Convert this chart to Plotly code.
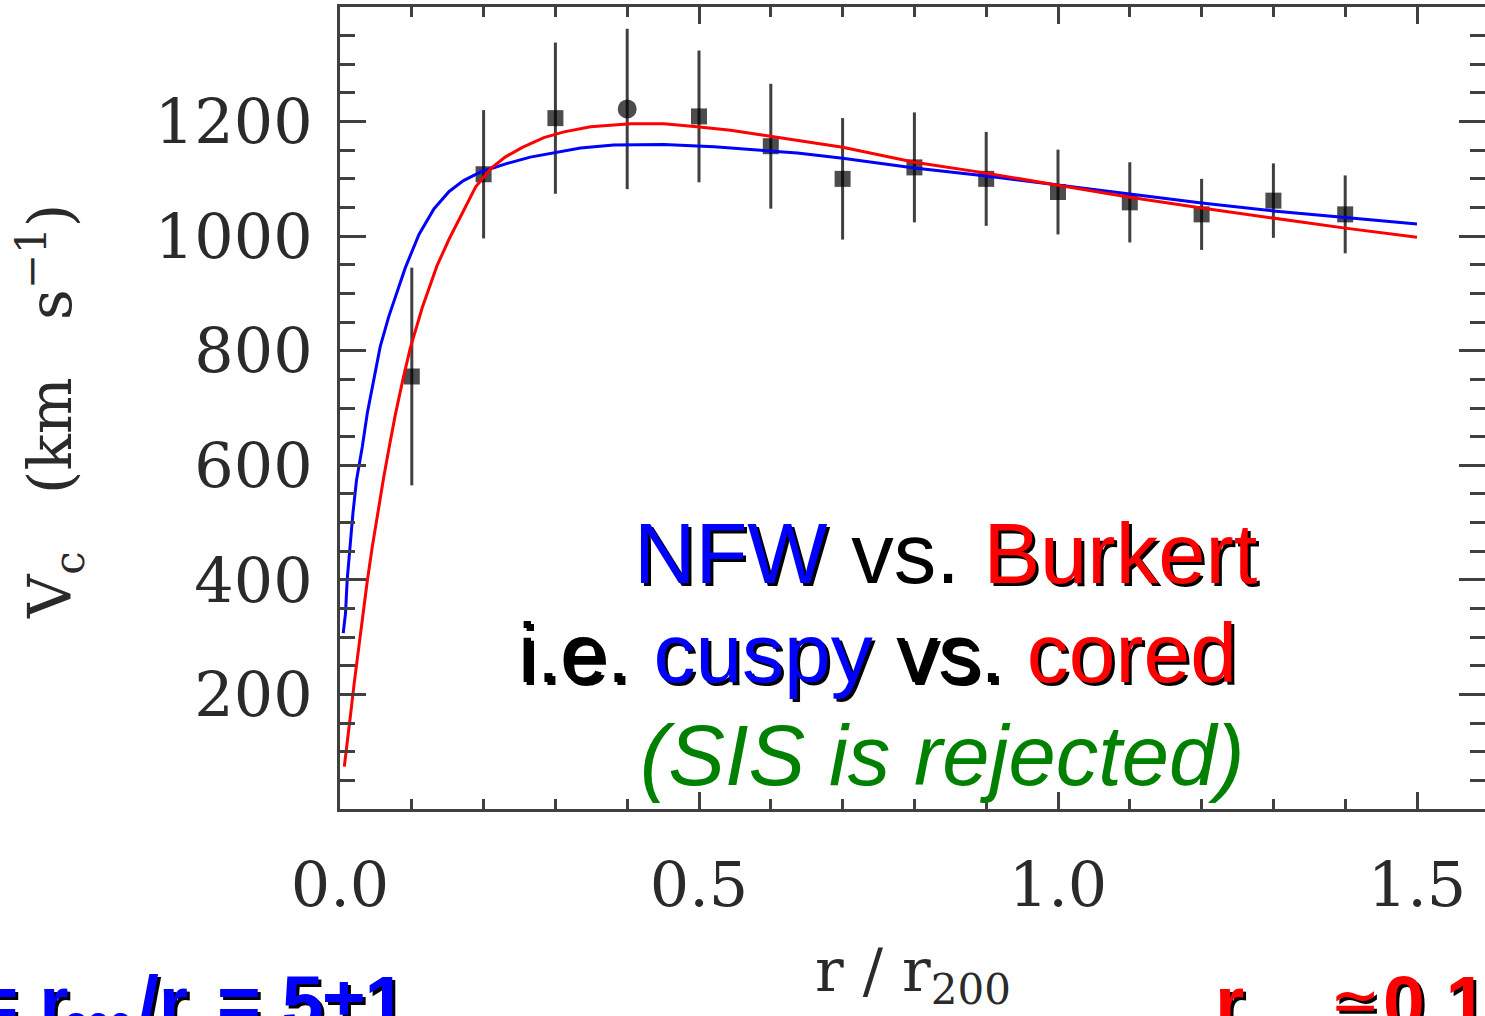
import plotly.graph_objects as go

# ---------------- data ----------------
r_data = [0.1, 0.2, 0.3, 0.4, 0.5, 0.6, 0.7, 0.8, 0.9, 1.0, 1.1, 1.2, 1.3, 1.4]
v_data = [755, 1108, 1206, 1222, 1209, 1157, 1100, 1120, 1100, 1077, 1059, 1038, 1062, 1038]
v_err = [190, 112, 132, 140, 115, 109, 106, 96, 82, 74, 70, 62, 65, 68]

r_nfw = [0.0045, 0.0077, 0.010, 0.0137, 0.018, 0.023, 0.031, 0.038, 0.047, 0.056,
         0.068, 0.080, 0.091, 0.110, 0.131, 0.152, 0.172, 0.196, 0.233, 0.265,
         0.302, 0.335, 0.381, 0.451, 0.521, 0.567, 0.637, 0.7, 0.8, 0.9,
         1.0, 1.1, 1.2, 1.3, 1.4, 1.5]
v_nfw = [307, 342, 400, 458, 516, 574, 632, 691, 749, 807,
         860, 905, 945, 1003, 1048, 1078, 1097, 1112, 1127, 1138,
         1147, 1154, 1159, 1160, 1156, 1152, 1145, 1136, 1119, 1105,
         1089, 1073, 1058, 1044, 1032, 1021]

r_bur = [0.006, 0.010, 0.015, 0.020, 0.026, 0.032, 0.038, 0.045, 0.052, 0.061,
         0.069, 0.077, 0.088, 0.098, 0.1145, 0.126, 0.135, 0.152, 0.170, 0.189,
         0.210, 0.230, 0.254, 0.284, 0.312, 0.349, 0.405, 0.451, 0.497, 0.544,
         0.590, 0.637, 0.683, 0.7, 0.8, 0.9, 1.0, 1.1, 1.2, 1.3, 1.4, 1.5]
v_bur = [74, 112, 168, 222, 283, 342, 398, 458, 515, 580,
         635, 688, 752, 805, 875, 918, 948, 995, 1040, 1086,
         1118, 1138, 1155, 1172, 1182, 1191, 1196, 1196, 1191, 1185,
         1176, 1167, 1159, 1155, 1129, 1110, 1089, 1068, 1049, 1031, 1014, 998]

x_tickvals = [0.0, 0.5, 1.0, 1.5]
x_ticktext = ["0.0", "0.5", "1.0", "1.5"]
y_tickvals = [200, 400, 600, 800, 1000, 1200]
y_ticktext = ["200", "400", "600", "800", "1000", "1200"]

# ---------------- style / layout ----------------
W, H = 1485, 1016
ML, MR, MT, MB = 340, 0, 7, 207
PW, PH = W - ML - MR, H - MT - MB
XMAX = PW / 718.0          # 718 px per unit of r/r200
AX = "#404040"
BLUE, RED, GREEN, BLACK = "#0000FF", "#FF0000", "#008000", "#000000"
NONE = "rgba(0,0,0,0)"
SERIF = "DejaVu Serif"
SANS = "Liberation Sans, Arial, sans-serif"

def px(xp):
    return (xp - ML) / PW

def py(yp):
    return (MT + PH - yp) / PH

fig = go.Figure()

symbols = ["square"] * len(r_data)
sizes = [16] * len(r_data)
symbols[3] = "circle"
sizes[3] = 19

# error bars (markers hidden), then markers on top, then model curves
fig.add_trace(go.Scatter(
    x=r_data, y=v_data, mode="markers",
    marker=dict(size=1, opacity=0),
    error_y=dict(type="data", array=v_err, visible=True, color=AX, thickness=3, width=0),
    showlegend=False, hoverinfo="skip", cliponaxis=False))
fig.add_trace(go.Scatter(
    x=r_data, y=v_data, mode="markers",
    marker=dict(symbol=symbols, size=sizes, color="#000000", line=dict(width=0)),
    showlegend=False, hoverinfo="skip", cliponaxis=False))

fig.add_trace(go.Scatter(x=r_nfw, y=v_nfw, mode="lines", line=dict(color=BLUE, width=3),
                         showlegend=False, hoverinfo="skip"))
fig.add_trace(go.Scatter(x=r_bur, y=v_bur, mode="lines", line=dict(color=RED, width=3),
                         showlegend=False, hoverinfo="skip"))
# invisible trace to activate the right-hand tick axis
fig.add_trace(go.Scatter(x=r_data, y=v_data, yaxis="y2", mode="markers",
                         marker=dict(opacity=0), showlegend=False, hoverinfo="skip"))

tickfont = dict(family=SERIF, size=62, color="#2a2a2a")

fig.update_layout(
    width=W, height=H, margin=dict(l=ML, r=MR, t=MT, b=MB, pad=0),
    paper_bgcolor="white", plot_bgcolor="white",
    xaxis=dict(range=[0, XMAX], tickmode="array", tickvals=x_tickvals, ticktext=x_ticktext,
               ticks="inside", ticklen=17, tickwidth=3, tickcolor=AX,
               minor=dict(dtick=0.1, tick0=0, ticks="inside", ticklen=10, tickwidth=3, tickcolor=AX),
               showline=True, linewidth=3, linecolor=AX, mirror="ticks",
               showgrid=False, zeroline=False, tickfont=tickfont, ticklabelstandoff=20),
    yaxis=dict(range=[0, 1400], tickmode="array", tickvals=y_tickvals, ticktext=y_ticktext,
               ticks="inside", ticklen=26, tickwidth=3, tickcolor=AX,
               minor=dict(dtick=50, tick0=0, ticks="inside", ticklen=15, tickwidth=3, tickcolor=AX),
               showline=True, linewidth=3, linecolor=AX, mirror=False,
               showgrid=False, zeroline=False, tickfont=tickfont, ticklabelstandoff=12),
    yaxis2=dict(range=[0, 1400], overlaying="y", side="right", tickmode="array", tickvals=y_tickvals,
                ticks="inside", ticklen=26, tickwidth=3, tickcolor=AX, showticklabels=False,
                minor=dict(dtick=50, tick0=0, ticks="inside", ticklen=15, tickwidth=3, tickcolor=AX),
                showline=False, showgrid=False, zeroline=False),
)

annotations = []

def add_text(segments, xp, yp, size, shadow=True, italic=False, bold=False, family=SANS, noshadow=()):
    plain = "".join(f'<span style="color:{NONE if i in noshadow else BLACK}">{t}</span>'
                    for i, (t, c) in enumerate(segments))
    colored = "".join(f'<span style="color:{c}">{t}</span>' for t, c in segments)
    if italic:
        plain, colored = f"<i>{plain}</i>", f"<i>{colored}</i>"
    if bold:
        plain, colored = f"<b>{plain}</b>", f"<b>{colored}</b>"
    base = dict(xref="paper", yref="paper", x=px(xp), y=py(yp), xanchor="left", yanchor="middle",
                showarrow=False, font=dict(family=family, size=size, color=BLACK))
    if shadow:
        annotations.append(dict(base, text=plain, xshift=3, yshift=-3))
    annotations.append(dict(base, text=colored))

add_text([("NFW", BLUE), (" vs. ", BLACK), ("Burkert", RED)], 632, 553, 85, noshadow=(1,))
add_text([("i.e. ", BLACK), ("cuspy", BLUE), (" vs. ", BLACK), ("cored", RED)], 516, 653, 84)
add_text([("(SIS is rejected)", GREEN)], 638, 755, 85, shadow=False, italic=True)

# cut-off slide text at the bottom: c = r200/rs = 5±1   and   rcore ≃0.1 r200
add_text([("c = r", BLUE)], -90, 1002, 75, bold=True)
add_text([("200", BLUE)], 63, 1027, 40, bold=True)
add_text([("/r", BLUE)], 136, 1002, 75, bold=True)
add_text([("s", BLUE)], 186, 1029, 40, bold=True)
add_text([("= 5±1", BLUE)], 215, 1002, 75, bold=True)

add_text([("r", RED)], 1213, 1002, 75, bold=True)
add_text([("core", RED)], 1244, 1029, 40, bold=True)
add_text([("≃", RED)], 1328, 1000, 60, bold=False)
add_text([("0.1 r", RED)], 1381, 1002, 75, bold=True)

# axis titles (serif, IDL style)
annotations.append(dict(xref="paper", yref="paper", x=px(913), y=py(975), xanchor="center", yanchor="middle",
                        showarrow=False, text="r / r<sub>200</sub>",
                        font=dict(family=SERIF, size=60, color="#2a2a2a")))
annotations.append(dict(xref="paper", yref="paper", x=px(50), y=py(412), xanchor="center", yanchor="middle",
                        showarrow=False, textangle=-90,
                        text="V<sub>c</sub>   (km   s<sup>−1</sup>)",
                        font=dict(family=SERIF, size=60, color="#2a2a2a")))

fig.update_layout(annotations=annotations)

fig.write_html("out.html")
